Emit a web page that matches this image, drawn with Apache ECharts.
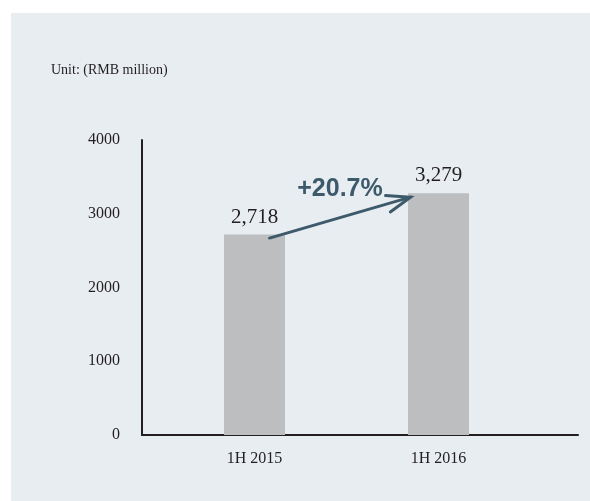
<!DOCTYPE html>
<html>
<head>
<meta charset="utf-8">
<script src="https://cdn.jsdelivr.net/npm/echarts@6/dist/echarts.min.js"></script>
<style>
html,body{margin:0;padding:0;background:#ffffff;}
#main{width:590px;height:501px;}
</style>
</head>
<body>
<div id="main"></div>
<script>
var categories = ['1H 2015', '1H 2016'];
var revenue = [2718, 3279];
var valueLabels = ['2,718', '3,279'];
var yTicks = [0, 1000, 2000, 3000, 4000];
var growthText = '+20.7%';
var unitText = 'Unit: (RMB million)';

var serif = "'Liberation Serif', 'Times New Roman', serif";
var sans = "'Liberation Sans', Arial, sans-serif";
var dark = '#231f20';
var arrowColor = '#3d5a6b';

var chart = echarts.init(document.getElementById('main'), null, {renderer: 'canvas'});

var option = {
  animation: false,
  backgroundColor: '#ffffff',
  grid: [
    {left: 162.5, width: 368, top: 140, bottom: 66},
    {left: 142, right: 12, top: 140, bottom: 66}
  ],
  xAxis: [
    {
      type: 'category', gridIndex: 0, data: categories,
      axisLine: {show: false}, axisTick: {show: false},
      axisLabel: {margin: 16, fontSize: 16, color: dark, fontFamily: serif}
    },
    {
      type: 'value', gridIndex: 1, min: 0, max: 1,
      axisLine: {show: true, lineStyle: {color: dark, width: 2}},
      axisTick: {show: false}, axisLabel: {show: false}, splitLine: {show: false}
    }
  ],
  yAxis: [
    {
      type: 'value', gridIndex: 0, min: yTicks[0], max: yTicks[yTicks.length - 1],
      interval: yTicks[1] - yTicks[0], offset: 20.5,
      axisLine: {show: true, lineStyle: {color: dark, width: 2}},
      axisTick: {show: false}, splitLine: {show: false},
      axisLabel: {
        margin: 22, fontSize: 16, color: dark, fontFamily: serif,
        formatter: function (v) { return String(v); }
      }
    },
    {
      type: 'value', gridIndex: 1, min: 0, max: 1, show: false
    }
  ],
  series: [
    {
      type: 'bar', xAxisIndex: 0, yAxisIndex: 0,
      data: revenue, barWidth: 61,
      itemStyle: {color: '#bdbec0'},
      label: {
        show: true, position: 'top', distance: 7,
        fontSize: 21, color: dark, fontFamily: serif,
        formatter: function (p) { return valueLabels[p.dataIndex]; }
      }
    }
  ]
};
chart.setOption(option);

// annotation arrow between the two bars, anchored through the axes
var p1 = chart.convertToPixel({xAxisIndex: 0, yAxisIndex: 0}, [0, 2670]);
var p2 = chart.convertToPixel({xAxisIndex: 0, yAxisIndex: 0}, [1, 3225]);
var x1 = p1[0] + 15, y1 = p1[1];
var x2 = p2[0] - 28, y2 = p2[1];
var ang = Math.atan2(y2 - y1, x2 - x1);
var headLen = 25, spread = 20 * Math.PI / 180;
var back = ang + Math.PI;
var hA = [x2 + headLen * Math.cos(back - spread), y2 + headLen * Math.sin(back - spread)];
var hB = [x2 + headLen * Math.cos(back + spread), y2 + headLen * Math.sin(back + spread)];

chart.setOption({
  graphic: [
    {
      type: 'rect', z: -10, silent: true,
      shape: {x: 11, y: 13, width: 579, height: 488},
      style: {fill: '#e8edf1'}
    },
    {
      type: 'text', left: 51, top: 63,
      style: {text: unitText, font: '14px ' + serif, fill: dark}
    },
    {
      type: 'line', z: 10,
      shape: {x1: x1, y1: y1, x2: x2, y2: y2},
      style: {stroke: arrowColor, lineWidth: 3, lineCap: 'round'}
    },
    {
      type: 'polyline', z: 10,
      shape: {points: [hA, [x2, y2], hB]},
      style: {stroke: arrowColor, lineWidth: 3, fill: null, lineCap: 'round', lineJoin: 'miter'}
    },
    {
      type: 'text', z: 10, x: 340, y: 189,
      style: {
        text: growthText, font: 'bold 25px ' + sans, fill: arrowColor,
        align: 'center', verticalAlign: 'middle'
      }
    }
  ]
});
</script>
</body>
</html>
